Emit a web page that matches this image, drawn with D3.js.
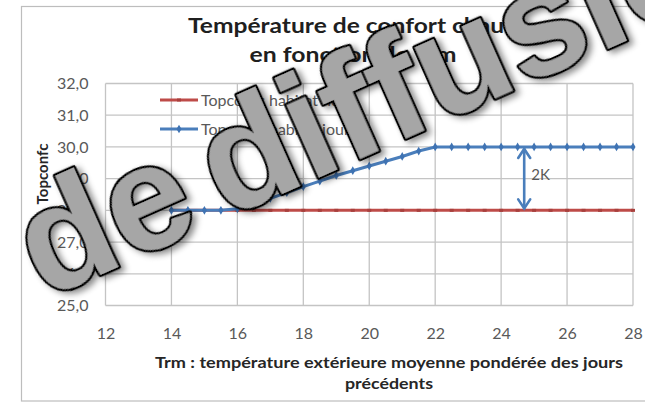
<!DOCTYPE html>
<html><head><meta charset="utf-8">
<script src="https://cdn.jsdelivr.net/npm/d3@7/dist/d3.min.js"></script>
<style>html,body{margin:0;padding:0;background:#fff;}svg{display:block;}</style>
</head><body>
<svg id="c" width="645" height="402"></svg>
<script>
// ---- data ----
const trm = [14,14.5,15,15.5,16,16.5,17,17.5,18,18.5,19,19.5,20,20.5,21,21.5,22,22.5,23,23.5,24,24.5,25,25.5,26,26.5,27,27.5,28];
const topNuit = [28,28,28,28,28,28,28,28,28,28,28,28,28,28,28,28,28,28,28,28,28,28,28,28,28,28,28,28,28];
const topJour = [28,28,28,28,28.05,28.2,28.38,28.56,28.75,28.92,29.1,29.25,29.4,29.55,29.7,29.87,30,30,30,30,30,30,30,30,30,30,30,30,30];
const seriesNames = ["Topconfc habitat nuit","Topconfc habitat jour"];
const xTicks = [12,14,16,18,20,22,24,26,28];
const yTicks = [25,26,27,28,29,30,31,32];
const titleLines = ["Température de confort chaud","en fonction de Trm"];
const xTitleLines = ["Trm : température extérieure moyenne pondérée des jours","précédents"];
const yTitle = "Topconfc";
const gapAt = [24.7];
const gapFrom = [28], gapTo = [30];
const gapLabel = ["2K"];
const watermark = "de diffusion";

// ---- drawing ----
const svg = d3.select("#c");
const W = 645, H = 402;
const x = d3.scaleLinear().domain([12,28]).range([105.5,633]);
const y = d3.scaleLinear().domain([25,32]).range([305.5,83.5]);
const FONT = "Lato, 'Open Sans', sans-serif";
const blue = "#4A7EBB", red = "#BE4B48", grid = "#C4C4C4";

svg.append("rect").attr("width",W).attr("height",H).attr("fill","#fff");
svg.append("rect").attr("x",21.5).attr("y",6.5).attr("width",660).attr("height",394.5)
  .attr("fill","none").attr("stroke","#BDBDBD").attr("stroke-width",1.2);

// title
svg.append("g").selectAll("text").data(titleLines).join("text")
  .attr("x",353).attr("y",(d,i)=>26+i*29).attr("dy","0.35em").attr("text-anchor","middle")
  .attr("font-family",FONT).attr("font-weight","bold").attr("font-size",20).attr("fill","#1f1f1f")
  .attr("textLength",(d,i)=>[330,207][i]).attr("lengthAdjust","spacingAndGlyphs")
  .text(d=>d);

// grid
const g = svg.append("g");
g.selectAll("line.h").data(yTicks).join("line").attr("class","h")
  .attr("x1",x(12)).attr("x2",x(28)).attr("y1",d=>y(d)).attr("y2",d=>y(d))
  .attr("stroke",grid).attr("stroke-width",1.3);
g.selectAll("line.v").data(xTicks).join("line").attr("class","v")
  .attr("y1",y(25)).attr("y2",y(32)).attr("x1",d=>x(d)).attr("x2",d=>x(d))
  .attr("stroke",grid).attr("stroke-width",1.3);

// axes (labels only)
const yAxis = d3.axisLeft(y).tickValues(yTicks).tickSize(0).tickPadding(17)
  .tickFormat(d=>d3.format(".1f")(d).replace(".",","));
svg.append("g").attr("transform",`translate(${x(12)},0)`).call(yAxis)
  .call(s=>s.select(".domain").remove())
  .selectAll("text").attr("font-family",FONT).attr("font-size",16).attr("fill","#595959");
const xAxis = d3.axisBottom(x).tickValues(xTicks).tickSize(0).tickPadding(22).tickFormat(d3.format("d"));
svg.append("g").attr("transform",`translate(0,${y(25)})`).call(xAxis)
  .call(s=>s.select(".domain").remove())
  .selectAll("text").attr("font-family",FONT).attr("font-size",16).attr("fill","#595959");

// axis titles
svg.append("g").selectAll("text").data(xTitleLines).join("text")
  .attr("x",389).attr("y",(d,i)=>363+i*21).attr("dy","0.35em").attr("text-anchor","middle")
  .attr("font-family",FONT).attr("font-weight","bold").attr("font-size",15.5).attr("fill","#262626")
  .attr("textLength",(d,i)=>[468,88][i]).attr("lengthAdjust","spacingAndGlyphs")
  .text(d=>d);
svg.append("text").attr("transform","translate(43,174) rotate(-90)").attr("dy","0.35em")
  .attr("text-anchor","middle").attr("font-family",FONT).attr("font-weight","bold")
  .attr("font-size",15).attr("fill","#262626").text(yTitle);

// series
const line = d3.line().x(d=>x(d[0])).y(d=>y(d[1]));
const nuit = trm.map((t,i)=>[t,topNuit[i]]);
const jour = trm.map((t,i)=>[t,topJour[i]]);
svg.append("path").datum(nuit).attr("d",line).attr("fill","none").attr("stroke",red).attr("stroke-width",3);
svg.append("g").selectAll("rect").data(nuit).join("rect")
  .attr("x",d=>x(d[0])-2).attr("y",d=>y(d[1])-1.5).attr("width",4).attr("height",3).attr("fill","#A8403D");
svg.append("path").datum(jour).attr("d",line).attr("fill","none").attr("stroke",blue).attr("stroke-width",3);
svg.append("g").selectAll("path").data(jour).join("path")
  .attr("transform",d=>`translate(${x(d[0])},${y(d[1])})`)
  .attr("d",d3.symbol(d3.symbolDiamond,22)).attr("fill","#3F73B3");

// legend
const lg = svg.append("g");
[red,blue].forEach((c,i)=>{
  const ly = 100 + i*29;
  lg.append("line").attr("x1",160).attr("x2",198).attr("y1",ly).attr("y2",ly).attr("stroke",c).attr("stroke-width",3);
  if(i===1) lg.append("path").attr("transform",`translate(179,${ly})`).attr("d",d3.symbol(d3.symbolDiamond,22)).attr("fill","#3F73B3");
  else lg.append("rect").attr("x",177).attr("y",ly-1.5).attr("width",4).attr("height",3).attr("fill","#A8403D");
  lg.append("text").attr("x",201).attr("y",ly).attr("dy","0.35em").attr("font-family",FONT)
    .attr("font-size",16).attr("fill","#595959").text(seriesNames[i]);
});

// gap annotation
gapAt.forEach((gx,i)=>{
  const ax = x(gx), y1 = y(gapTo[i])+2, y2 = y(gapFrom[i])-2;
  const a = svg.append("g").attr("stroke",blue).attr("stroke-width",2.6).attr("fill","none").attr("stroke-linecap","round");
  a.append("line").attr("x1",ax).attr("x2",ax).attr("y1",y1).attr("y2",y2);
  a.append("path").attr("d",`M${ax-6},${y1+9}L${ax},${y1}L${ax+6},${y1+9}`);
  a.append("path").attr("d",`M${ax-6},${y2-9}L${ax},${y2}L${ax+6},${y2-9}`);
  svg.append("text").attr("x",ax+7).attr("y",(y1+y2)/2-4).attr("dy","0.35em").attr("font-family",FONT)
    .attr("font-size",15).attr("fill","#595959").text(gapLabel[i]);
});

// watermark
const defs = svg.append("defs");
const f = defs.append("filter").attr("id","sh").attr("x","-20%").attr("y","-20%").attr("width","140%").attr("height","140%");
f.append("feDropShadow").attr("dx",3).attr("dy",4).attr("stdDeviation",3).attr("flood-color","#000").attr("flood-opacity",0.45);
svg.append("text").attr("transform","translate(44,300) rotate(-24)")
  .attr("font-family","'Liberation Sans', Arial, sans-serif").attr("font-weight","bold").attr("font-size",150)
  .attr("word-spacing",-18)
  .attr("fill","#A6A6A6").attr("stroke","#000").attr("stroke-width",4.5).attr("stroke-linejoin","round")
  .attr("paint-order","stroke").attr("filter","url(#sh)").text(watermark);
</script>
</body></html>
